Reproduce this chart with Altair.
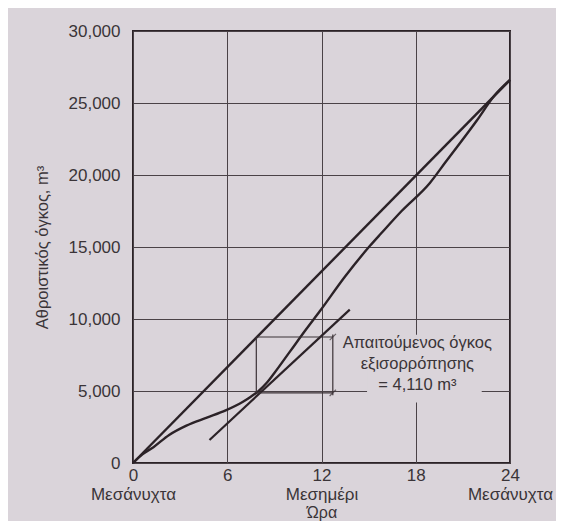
import altair as alt
import pandas as pd

# ---- data ----
x_ticks = [0, 6, 12, 18, 24]
x_sublabels = ["Μεσάνυχτα", "", "Μεσημέρι", "", "Μεσάνυχτα"]
y_ticks = [0, 5000, 10000, 15000, 20000, 25000, 30000]

# cumulative inflow (mass curve)
curve_h = [0, 0.6, 1.3, 2.3, 3.4, 4.7, 5.9, 7.0, 7.5, 8.0, 8.5, 9.0, 10.0, 11.0, 11.9,
           13.5, 15.1, 15.8, 17.1, 18.9, 19.9, 21.9, 23.0, 24.0]
curve_v = [0, 600, 1100, 1950, 2600, 3150, 3650, 4250, 4600, 5000, 5550, 6250, 7750,
           9250, 10550, 12950, 15100, 15950, 17500, 19450, 20900, 23800, 25500, 26600]

# average (straight) line
avg_h = [0, 24]
avg_v = [0, 26600]

# tangent line
tan_h = [4.87, 13.8]
tan_v = [1600, 10650]

# bracket box (equalization volume)
box_x1 = [7.85, 7.85, 7.85, 12.72]
box_x2 = [12.72, 12.72, 7.85, 12.72]
box_y1 = [8750, 4870, 4870, 4700]
box_y2 = [8750, 4870, 8750, 8920]
tick_h = [12.72, 12.72]
tick_v = [8750, 4870]

note_lines = ["Απαιτούμενος όγκος", "εξισορρόπησης", "= 4,110 m³"]
note_h = [18.1]
note_v = [8330]
note_box_x = [14.9]
note_box_x2 = [22.2]
note_box_y = [4200]
note_box_y2 = [8900]

paper = "#dad4da"
ink = "#2b2227"
text_col = "#3a3438"

# ---- chart ----
xs = alt.Scale(domain=[0, 24], nice=False)
ys = alt.Scale(domain=[0, 30000], nice=False)

parts = []
for t, s in zip(x_ticks, x_sublabels):
    if s:
        parts.append("datum.value == %d ? ['%d', '%s']" % (t, t, s))
label_expr = " : ".join(parts) + " : [datum.label, '']"

xaxis = alt.Axis(values=x_ticks, title="Ώρα", labelExpr=label_expr, grid=True,
                 tickSize=0, domain=False, labelFlush=False, labelOverlap=False,
                 labelPadding=4, labelLineHeight=19, titleY=54, titleBaseline="alphabetic",
                 titleFontSize=16)
yaxis = alt.Axis(values=y_ticks, title="Αθροιστικός όγκος, m³",
                 labelExpr="format(datum.value, ',')", grid=True,
                 tickSize=0, domain=False, labelPadding=13, titlePadding=18)

curve_df = pd.DataFrame({"h": curve_h, "v": curve_v})
avg_df = pd.DataFrame({"h": avg_h, "v": avg_v})
tan_df = pd.DataFrame({"h": tan_h, "v": tan_v})
box_df = pd.DataFrame({"x1": box_x1, "x2": box_x2, "y1": box_y1, "y2": box_y2})
tick_df = pd.DataFrame({"h": tick_h, "v": tick_v})
note_df = pd.DataFrame({"h": note_h, "v": note_v, "t": [note_lines]})
nbox_df = pd.DataFrame({"x1": note_box_x, "x2": note_box_x2, "y1": note_box_y, "y2": note_box_y2})

base_axes = alt.Chart(avg_df).mark_line(color=ink, strokeWidth=2.4).encode(
    x=alt.X("h:Q", scale=xs, axis=xaxis),
    y=alt.Y("v:Q", scale=ys, axis=yaxis),
)

nbox = alt.Chart(nbox_df).mark_rect(fill=paper).encode(
    x=alt.X("x1:Q", scale=xs), x2="x2:Q",
    y=alt.Y("y1:Q", scale=ys), y2="y2:Q",
)

curve = alt.Chart(curve_df).mark_line(color=ink, strokeWidth=2.4, interpolate="monotone").encode(
    x=alt.X("h:Q", scale=xs), y=alt.Y("v:Q", scale=ys))

tan = alt.Chart(tan_df).mark_line(color=ink, strokeWidth=2.2).encode(
    x=alt.X("h:Q", scale=xs), y=alt.Y("v:Q", scale=ys))

box = alt.Chart(box_df).mark_rule(color="#3b3236", strokeWidth=1.2).encode(
    x=alt.X("x1:Q", scale=xs), x2="x2:Q",
    y=alt.Y("y1:Q", scale=ys), y2="y2:Q",
)

ticks = alt.Chart(tick_df).mark_point(shape="M-1,1L1,-1", size=40, color="#3b3236",
                                      strokeWidth=1.2, filled=False).encode(
    x=alt.X("h:Q", scale=xs), y=alt.Y("v:Q", scale=ys))

note = alt.Chart(note_df).mark_text(font="Liberation Sans", fontSize=16.5, color=text_col,
                                    align="center", baseline="middle", lineHeight=21).encode(
    x=alt.X("h:Q", scale=xs), y=alt.Y("v:Q", scale=ys), text="t")

chart = alt.layer(base_axes, nbox, curve, tan, box, ticks, note).properties(
    width=377, height=432,
    background=paper,
    autosize=alt.AutoSizeParams(type="none"),
    padding={"left": 125, "top": 23, "right": 46, "bottom": 58},
).configure_view(
    stroke=ink, strokeWidth=2, fill=paper
).configure_axis(
    labelFont="Liberation Sans", labelFontSize=17, labelColor=text_col,
    titleFont="Liberation Sans", titleFontSize=16.5, titleColor=text_col, titleFontWeight="normal",
    gridColor="#4a4247", gridWidth=1, gridOpacity=1,
)

chart.save("out.html", embed_options={"renderer": "svg", "actions": False})
